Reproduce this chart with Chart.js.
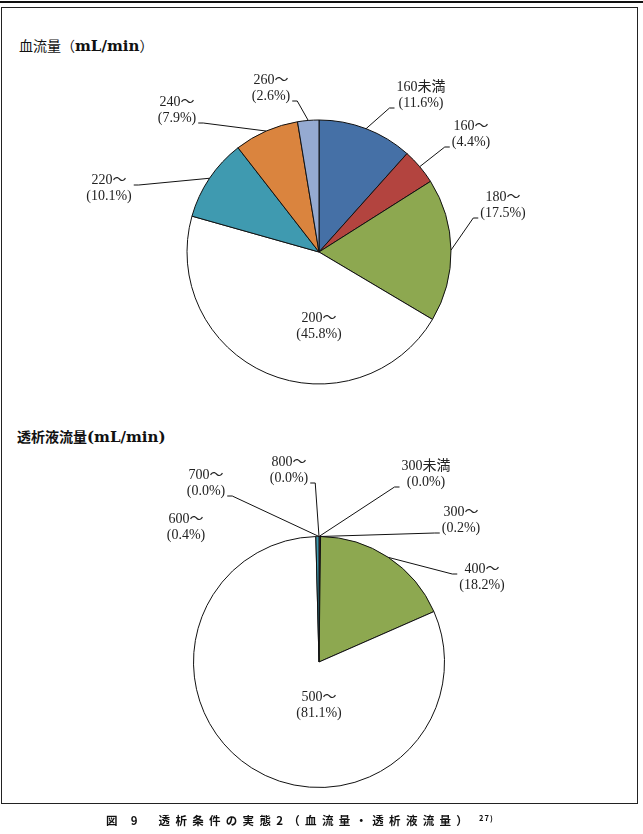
<!DOCTYPE html>
<html>
<head>
<meta charset="utf-8">
<script src="https://cdn.jsdelivr.net/npm/chart.js@4.4.1/dist/chart.umd.min.js"></script>
<style>
  html, body { margin: 0; padding: 0; background: #fff; }
  body { width: 643px; height: 834px; overflow: hidden; position: relative; }
  #topline { position: absolute; left: 0; top: 1px; width: 643px; height: 2px; background: #111; }
  #frame { position: absolute; left: 1px; top: 7px; width: 637px; height: 797px; border: 1.5px solid #222; box-sizing: border-box; }
  .title { position: absolute; font-size: 14px; color: #111; white-space: nowrap; line-height: 18px; }
  .cjk { font-family: 'Noto Sans CJK JP', sans-serif; }
  .lat { font-family: 'DejaVu Serif', 'Liberation Serif', serif; font-weight: bold; font-size: 15px; }
  #t1 { top: 36px; left: 19px; }
  #t2 { top: 427px; left: 17px; font-weight: bold; }
  canvas { position: absolute; left: 0; }
  #c1 { top: 60px; }
  #c2 { top: 440px; }
  #caption { position: absolute; top: 812px; left: 106px; font-family: 'Noto Sans CJK JP', sans-serif; font-weight: bold; font-size: 11.5px; letter-spacing: 5.3px; color: #111; white-space: nowrap; }
  #caption sup { font-size: 7.5px; letter-spacing: 1px; vertical-align: 4px; margin-left: 6px; }
</style>
</head>
<body>
<div id="topline"></div>
<div id="frame"></div>
<div class="title" id="t1"><span class="cjk">血流量</span><span class="cjk">（</span><span class="lat">mL/min</span><span class="cjk">）</span></div>
<div class="title" id="t2"><span class="cjk" style="font-weight:bold">透析液流量</span><span class="lat">(mL/min)</span></div>
<canvas id="c1" width="638" height="384"></canvas>
<canvas id="c2" width="638" height="380"></canvas>
<div id="caption">図 9&nbsp;&nbsp;透析条件の実態2（血流量・透析液流量）<sup>27)</sup></div>
<script>
// ---- data ----
const bloodFlowCategories = ['160未満', '160〜', '180〜', '200〜', '220〜', '240〜', '260〜'];
const bloodFlowPercent = [11.6, 4.4, 17.5, 45.8, 10.1, 7.9, 2.6];
const dialysateFlowCategories = ['300未満', '300〜', '400〜', '500〜', '600〜', '700〜', '800〜'];
const dialysateFlowPercent = [0.0, 0.2, 18.2, 81.1, 0.4, 0.0, 0.0];

// ---- styling ----
const sliceColors = ['#4570A6', '#B3443F', '#8DA850', '#FFFFFF', '#3F9AB0', '#DA843E', '#95AAD1'];
// label centre offsets relative to pie centre (layout only)
const bloodLabelOffsets = [[102, -157], [152, -118], [184, -47], [0, 74], [-210, -64], [-142, -142], [-48, -164]];
const bloodLeaders = [true, true, true, false, true, true, true];
const dialLabelOffsets = [[107, -188], [142, -142], [163, -85], [0, 43], [-133, -135], [-113, -179], [-30, -192]];
const dialLeaders = [true, true, true, false, false, true, true];

const sliceLabelPlugin = {
  id: 'sliceLabels',
  afterDatasetsDraw(chart, args, opts) {
    const ctx = chart.ctx;
    const meta = chart.getDatasetMeta(0);
    const values = chart.data.datasets[0].data;
    ctx.save();
    ctx.font = opts.font;
    ctx.fillStyle = '#222';
    ctx.strokeStyle = '#111';
    ctx.lineWidth = 1;
    ctx.textAlign = 'center';
    ctx.textBaseline = 'middle';
    meta.data.forEach((arc, i) => {
      const p = arc.getProps(['x', 'y', 'startAngle', 'endAngle', 'outerRadius'], true);
      const mid = (p.startAngle + p.endAngle) / 2;
      const ax = p.x + Math.cos(mid) * p.outerRadius;
      const ay = p.y + Math.sin(mid) * p.outerRadius;
      const cx = p.x + opts.offsets[i][0];
      const cy = p.y + opts.offsets[i][1];
      const lines = [chart.data.labels[i], '(' + values[i].toFixed(1) + '%)'];
      const hw = Math.max(...lines.map(l => ctx.measureText(l).width)) / 2;
      if (opts.leaders[i]) {
        const right = cx > ax;
        const px = right ? cx - hw - 2 : cx + hw + 2;
        const py = ay > cy ? cy + 13 : cy - 3;
        const tx = right ? px - 5 : px + 5;
        ctx.beginPath();
        ctx.moveTo(ax, ay);
        ctx.lineTo(tx, py);
        ctx.lineTo(px, py);
        ctx.stroke();
      }
      ctx.fillText(lines[0], cx, cy - 8);
      ctx.fillText(lines[1], cx, cy + 8);
    });
    ctx.restore();
  }
};

function makePie(id, labels, values, radius, padTop, offsets, leaders) {
  return new Chart(document.getElementById(id), {
    type: 'pie',
    data: {
      labels: labels,
      datasets: [{
        data: values,
        backgroundColor: sliceColors,
        borderColor: '#111',
        borderWidth: 1
      }]
    },
    options: {
      responsive: false,
      animation: false,
      devicePixelRatio: 1,
      radius: radius,
      layout: { padding: { top: padTop } },
      plugins: {
        legend: { display: false },
        tooltip: { enabled: false },
        sliceLabels: {
          font: "14px 'Liberation Serif', 'Noto Sans CJK JP', serif",
          offsets: offsets,
          leaders: leaders
        }
      }
    },
    plugins: [sliceLabelPlugin]
  });
}

makePie('c1', bloodFlowCategories, bloodFlowPercent, 132, 0, bloodLabelOffsets, bloodLeaders);
makePie('c2', dialysateFlowCategories, dialysateFlowPercent, 125.5, 64, dialLabelOffsets, dialLeaders);
</script>
</body>
</html>
